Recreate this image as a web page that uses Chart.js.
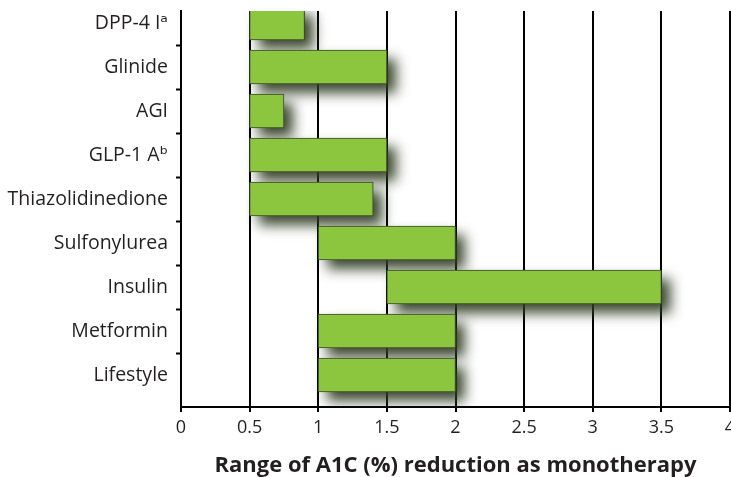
<!DOCTYPE html>
<html>
<head>
<meta charset="utf-8">
<script src="https://cdn.jsdelivr.net/npm/chart.js@4.4.1/dist/chart.umd.min.js"></script>
<style>
  html, body { margin: 0; padding: 0; background: #fff; overflow: hidden; }
  canvas { display: block; }
</style>
</head>
<body>
<canvas id="chart" width="731" height="477"></canvas>
<script>
// Treatments, listed top to bottom
const categories = ['DPP-4 I\u1D43', 'Glinide', 'AGI', 'GLP-1 A\u1D47', 'Thiazolidinedione',
                    'Sulfonylurea', 'Insulin', 'Metformin', 'Lifestyle'];
// Range of A1C reduction (%) for each treatment
const rangeLow  = [0.5, 0.5, 0.5,  0.5, 0.5, 1, 1.5, 1, 1];
const rangeHigh = [0.9, 1.5, 0.75, 1.5, 1.4, 2, 3.5, 2, 2];
// Horizontal axis ticks and their labels
const xTickValues = [0, 0.5, 1, 1.5, 2, 2.5, 3, 3.5, 4];
const xTickLabels = ['0', '0.5', '1', '1.5', '2', '2.5', '3', '3.5', '4'];

const FONT = "'Open Sans', 'DejaVu Sans', sans-serif";
const INK = '#231f20';

// Soft drop shadow drawn underneath every bar
const barShadow = {
  id: 'barShadow',
  beforeDatasetsDraw(chart) {
    const { ctx, chartArea: a } = chart;
    const meta = chart.getDatasetMeta(0);
    ctx.save();
    ctx.beginPath();
    ctx.rect(a.left, a.top, a.right - a.left + 30, a.bottom - a.top);
    ctx.clip();
    ctx.shadowColor = 'rgba(48, 62, 36, 0.95)';
    ctx.shadowBlur = 13;
    ctx.shadowOffsetX = 9;
    ctx.shadowOffsetY = 9;
    ctx.fillStyle = '#3b5323';
    meta.data.forEach(bar => {
      const p = bar.getProps(['x', 'y', 'base', 'height'], true);
      const left = Math.min(p.base, p.x);
      ctx.fillRect(left, p.y - p.height / 2, Math.abs(p.x - p.base), p.height);
    });
    ctx.restore();
  }
};

const bars = categories.map((c, i) => ({ y: i, x: [rangeLow[i], rangeHigh[i]] }));

function noOverflow(scale) {
  scale.paddingLeft = 0;
  scale.paddingRight = 0;
  scale.paddingTop = 0;
  scale.paddingBottom = 0;
}

new Chart(document.getElementById('chart'), {
  type: 'bar',
  data: {
    datasets: [{
      data: bars,
      backgroundColor: '#8cc63f',
      borderColor: '#3b4a2b',
      borderWidth: 1,
      borderSkipped: false,
      barThickness: 34
    }]
  },
  plugins: [barShadow],
  options: {
    indexAxis: 'y',
    responsive: false,
    animation: false,
    devicePixelRatio: 1,
    layout: { autoPadding: false, padding: { top: 11, right: 1, bottom: 0, left: 0 } },
    plugins: { legend: { display: false }, tooltip: { enabled: false } },
    scales: {
      x: {
        type: 'linear',
        min: 0,
        max: 4,
        afterBuildTicks(scale) { scale.ticks = xTickValues.map(v => ({ value: v })); },
        afterFit(scale) { scale.height = 70; noOverflow(scale); },
        grid: { color: '#000', lineWidth: 2, tickLength: 5, tickColor: '#000', tickWidth: 2 },
        border: { display: true, color: '#000', width: 2 },
        ticks: {
          autoSkip: false, maxRotation: 0, padding: 5, color: INK,
          font: { family: FONT, size: 18 },
          callback: (v, i) => xTickLabels[i]
        },
        title: {
          display: true,
          text: 'Range of A1C (%) reduction as monotherapy',
          color: INK,
          font: { family: FONT, size: 22, weight: 'bold' },
          padding: { top: 0, bottom: -2 }
        }
      },
      y: {
        type: 'linear',
        reverse: true,
        offset: false,
        min: -0.273,
        max: 8.727,
        afterBuildTicks(scale) {
          const t = [];
          categories.forEach((c, i) => {
            t.push({ value: i });
            if (i < categories.length - 1) t.push({ value: i + 0.5 });
          });
          scale.ticks = t;
        },
        afterFit(scale) { scale.width = 181; noOverflow(scale); },
        grid: {
          offset: false,
          drawOnChartArea: false,
          tickLength: 5,
          tickWidth: 2,
          tickColor: ctx => (ctx.tick && Number.isInteger(ctx.tick.value)) ? 'rgba(0,0,0,0)' : '#000'
        },
        border: { display: true, color: '#000', width: 2 },
        ticks: {
          autoSkip: false,
          padding: 8,
          color: INK,
          font: { family: FONT, size: 19.5 },
          callback: v => Number.isInteger(v) ? categories[v] : ''
        }
      }
    }
  }
});
</script>
</body>
</html>
